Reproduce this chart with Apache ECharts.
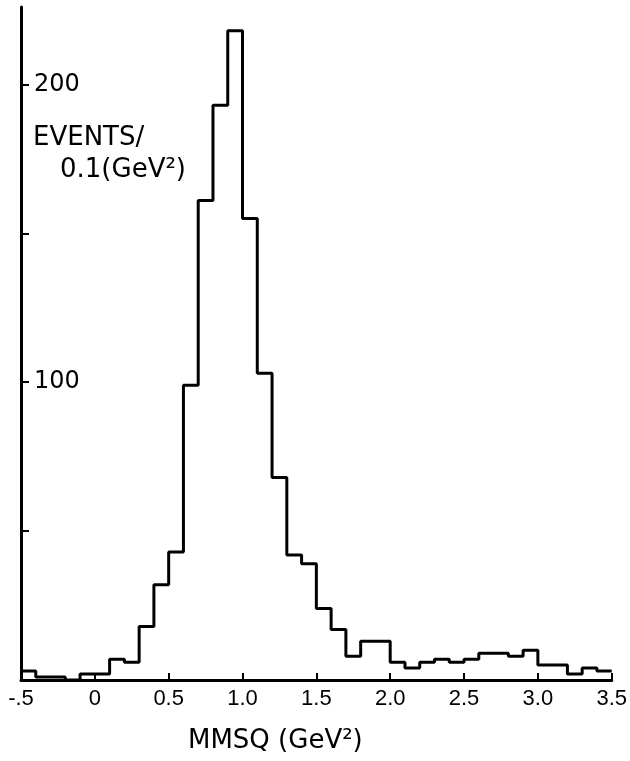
<!DOCTYPE html>
<html>
<head>
<meta charset="utf-8">
<script src="https://cdn.jsdelivr.net/npm/echarts@6/dist/echarts.min.js"></script>
<style>
html,body{margin:0;padding:0;background:#fff;}
#chart{width:630px;height:761px;}
</style>
</head>
<body>
<div id="chart"></div>
<script>
// Bin left edges (GeV^2), width 0.1
const binStarts = [-0.5,-0.4,-0.3,-0.2,-0.1,0.0,0.1,0.2,0.3,0.4,
                   0.5,0.6,0.7,0.8,0.9,1.0,1.1,1.2,1.3,1.4,
                   1.5,1.6,1.7,1.8,1.9,2.0,2.1,2.2,2.3,2.4,
                   2.5,2.6,2.7,2.8,2.9,3.0,3.1,3.2,3.3,3.4];
const lastEdge = 3.5;
// Events per 0.1 GeV^2
const counts = [3,1,1,0,2,2,7,6,18,32,
                43,99,161,193,218,155,103,68,42,39,
                24,17,8,13,13,6,4,6,7,6,
                7,9,9,8,10,5,5,2,4,3];
// Tick labels
const xTickValues = [-0.5,0,0.5,1.0,1.5,2.0,2.5,3.0,3.5];
const xTickLabels = ['-.5','0','0.5','1.0','1.5','2.0','2.5','3.0','3.5'];
const yLabelValues = [100,200];
const yLabelTexts = ['100','200'];

const stepData = binStarts.map((x,i)=>[x,counts[i]]);
stepData.push([lastEdge, counts[counts.length-1]]);

const chart = echarts.init(document.getElementById('chart'));
const font = 'DejaVu Sans';
chart.setOption({
  backgroundColor:'#fff',
  animation:false,
  grid:{left:21,right:15,top:7,bottom:81},
  xAxis:{
    type:'value', min:-0.5, max:3.5, interval:0.5,
    axisLine:{show:true,onZero:false,lineStyle:{color:'#000',width:3}},
    axisTick:{show:true,inside:true,length:7,lineStyle:{color:'#000',width:2}},
    splitLine:{show:false},
    axisLabel:{
      margin:8,color:'#000',fontFamily:'Liberation Sans',fontSize:22,
      showMinLabel:true,showMaxLabel:true,
      formatter:function(v){
        const k = xTickValues.findIndex(t=>Math.abs(t-v)<1e-6);
        return k>=0 ? xTickLabels[k] : '';
      }
    }
  },
  yAxis:{
    type:'value', min:0, max:226, interval:50,
    axisLine:{show:true,onZero:false,lineStyle:{color:'#000',width:3}},
    axisTick:{show:true,inside:true,length:8,lineStyle:{color:'#000',width:2}},
    splitLine:{show:false},
    axisLabel:{
      inside:true, margin:13, color:'#000', fontFamily:font, fontSize:24,
      showMaxLabel:false,
      formatter:function(v){
        const k = yLabelValues.indexOf(v);
        return k>=0 ? yLabelTexts[k] : '';
      }
    }
  },
  graphic:[
    {type:'text',left:33,top:125,style:{text:'EVENTS/',fill:'#000',font:'26px "DejaVu Sans"'}},
    {type:'text',left:60,top:157,style:{text:'0.1(GeV²)',fill:'#000',font:'26px "DejaVu Sans"'}},
    {type:'text',left:188,top:728,style:{text:'MMSQ (GeV²)',fill:'#000',font:'26px "DejaVu Sans"'}}
  ],
  series:[{
    type:'line', step:'end', data:stepData, symbol:'none',
    lineStyle:{color:'#000',width:3}
  }]
});
</script>
</body>
</html>
